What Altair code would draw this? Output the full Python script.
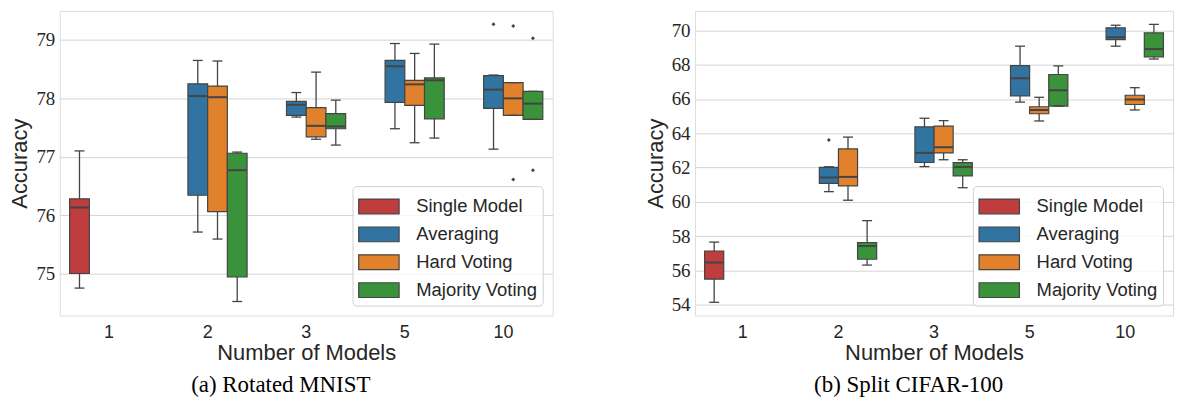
import altair as alt
import pandas as pd

N_ORDER = ["1", "2", "3", "5", "10"]
METHODS = ["Single Model", "Averaging", "Hard Voting", "Majority Voting"]
COLORS = ["#c03d3e", "#3274a1", "#e1812c", "#3a923a"]

# (a) Rotated MNIST
mn_n = ["1", "2", "2", "2", "3", "3", "3", "5", "5", "5", "10", "10", "10"]
mn_method = ["Single Model"] + ["Averaging", "Hard Voting", "Majority Voting"] * 4
mn_lo = [74.75, 75.71, 75.59, 74.52, 77.68, 77.30, 77.20, 77.48, 77.24, 77.32, 77.13, 77.71, 77.64]
mn_q1 = [75.00, 76.34, 76.06, 74.94, 77.71, 77.34, 77.48, 77.93, 77.88, 77.65, 77.83, 77.71, 77.64]
mn_med = [76.13, 78.04, 78.02, 76.77, 77.89, 77.53, 77.52, 78.55, 78.24, 78.31, 78.15, 78.00, 77.91]
mn_q3 = [76.28, 78.25, 78.21, 77.06, 77.95, 77.84, 77.74, 78.65, 78.31, 78.35, 78.39, 78.27, 78.12]
mn_hi = [77.10, 78.65, 78.64, 77.08, 78.10, 78.45, 77.97, 78.94, 78.77, 78.93, 78.40, 78.27, 78.12]
mn_out_n = ["10", "10", "10", "10", "10"]
mn_out_method = ["Averaging", "Hard Voting", "Hard Voting", "Majority Voting", "Majority Voting"]
mn_out_val = [79.27, 79.24, 76.61, 79.03, 76.77]
mn_ticks = [75, 76, 77, 78, 79]
mn_domain = [74.28, 79.5]

# (b) Split CIFAR-100
cf_n = ["1", "2", "2", "2", "3", "3", "3", "5", "5", "5", "10", "10", "10"]
cf_method = ["Single Model"] + ["Averaging", "Hard Voting", "Majority Voting"] * 4
cf_lo = [54.15, 60.60, 60.10, 56.32, 62.06, 62.46, 60.83, 65.82, 64.72, 65.59, 69.08, 65.36, 68.33]
cf_q1 = [55.50, 61.08, 60.94, 56.66, 62.30, 62.86, 61.52, 66.18, 65.14, 65.59, 69.46, 65.68, 68.46]
cf_med = [56.47, 61.42, 61.46, 57.43, 62.86, 63.19, 62.04, 67.21, 65.36, 66.51, 69.60, 65.97, 68.91]
cf_q3 = [57.14, 62.02, 63.09, 57.63, 64.38, 64.42, 62.29, 67.95, 65.55, 67.43, 70.15, 66.22, 69.86]
cf_hi = [57.66, 62.05, 63.78, 58.91, 64.88, 64.74, 62.46, 69.08, 66.10, 67.93, 70.30, 66.66, 70.35]
cf_out_n = ["2"]
cf_out_method = ["Averaging"]
cf_out_val = [63.61]
cf_ticks = [54, 56, 58, 60, 62, 64, 66, 68, 70]
cf_domain = [53.38, 71.14]

LINE = "#444444"
SANS = "Liberation Sans"
SERIF = "Liberation Serif"
H = 306


def panel(n, method, lo, q1, med, q3, hi, on, om, ov, ticks, domain, caption, width):
    df = pd.DataFrame({"n": n, "method": method, "lo": lo, "q1": q1,
                       "med": med, "q3": q3, "hi": hi})
    dfo = pd.DataFrame({"n": on, "method": om, "val": ov})
    x = alt.X("n:N", sort=N_ORDER, scale=alt.Scale(domain=N_ORDER, paddingInner=0, paddingOuter=0),
              axis=alt.Axis(title="Number of Models", labelAngle=0, ticks=False, domain=False,
                            grid=False, labelFont=SANS, labelFontSize=18, labelColor="#262626",
                            labelPadding=8, titleFont=SANS, titleFontSize=22, titleFontWeight="normal",
                            titleColor="#262626", titlePadding=1))
    xo = alt.XOffset("method:N", sort=METHODS,
                     scale=alt.Scale(domain=METHODS, paddingInner=0, paddingOuter=0.5))
    ysc = alt.Scale(domain=domain, nice=False, zero=False)
    yaxis = alt.Axis(title="Accuracy", values=ticks, format="d", labelOverlap=False,
                     ticks=False, domain=False, grid=True,
                     gridColor="#d4d4d4", gridWidth=1, labelFont=SERIF, labelFontSize=19,
                     labelColor="#262626", labelPadding=5, titleFont=SANS, titleFontSize=22,
                     titleFontWeight="normal", titleColor="#262626", titlePadding=4)
    base = alt.Chart(df)
    whisk = base.mark_rule(color=LINE, strokeWidth=1.3).encode(
        x=x, xOffset=xo, y=alt.Y("lo:Q", scale=ysc, axis=yaxis), y2="hi:Q")
    box = base.mark_bar(stroke=LINE, strokeWidth=1.2).encode(
        x=x, xOffset=xo, y=alt.Y("q1:Q", scale=ysc, axis=yaxis), y2="q3:Q",
        color=alt.Color("method:N", sort=METHODS,
                        scale=alt.Scale(domain=METHODS, range=COLORS),
                        legend=alt.Legend(title=None, orient="bottom-right", offset=10,
                                          fillColor="rgba(255,255,255,0.8)", strokeColor="#d0d0d0",
                                          cornerRadius=4, padding=5, rowPadding=2,
                                          symbolType="M-1.367,-0.5H1.367V0.5H-1.367Z",
                                          symbolSize=880, symbolStrokeColor=LINE,
                                          symbolStrokeWidth=1.2, symbolOpacity=1, symbolOffset=6,
                                          labelFont=SANS, labelFontSize=18.5, labelColor="#262626",
                                          labelOffset=22, labelLimit=300)))
    medl = base.mark_tick(color=LINE, thickness=2, size=19, orient="horizontal", opacity=1).encode(
        x=x, xOffset=xo, y=alt.Y("med:Q", scale=ysc, axis=yaxis))
    caplo = base.mark_tick(color=LINE, thickness=1.3, size=10, orient="horizontal", opacity=1).encode(
        x=x, xOffset=xo, y=alt.Y("lo:Q", scale=ysc, axis=yaxis))
    caphi = base.mark_tick(color=LINE, thickness=1.3, size=10, orient="horizontal", opacity=1).encode(
        x=x, xOffset=xo, y=alt.Y("hi:Q", scale=ysc, axis=yaxis))
    outl = alt.Chart(dfo).mark_point(shape="diamond", filled=True, color=LINE, size=16, opacity=1).encode(
        x=x, xOffset=xo, y=alt.Y("val:Q", scale=ysc, axis=yaxis))
    return alt.layer(whisk, box, medl, caplo, caphi, outl).properties(
        width=width, height=H,
        title=alt.TitleParams(text=caption, orient="bottom", anchor="middle", frame="bounds",
                              font=SERIF, fontSize=23, fontWeight="normal", color="black",
                              offset=11))


left = panel(mn_n, mn_method, mn_lo, mn_q1, mn_med, mn_q3, mn_hi,
             mn_out_n, mn_out_method, mn_out_val, mn_ticks, mn_domain, "(a) Rotated MNIST", 495)
right = panel(cf_n, cf_method, cf_lo, cf_q1, cf_med, cf_q3, cf_hi,
              cf_out_n, cf_out_method, cf_out_val, cf_ticks, cf_domain, "(b) Split CIFAR-100", 480)

chart = alt.hconcat(left, right, spacing=90).resolve_scale(
    x="independent", y="independent", xOffset="independent", color="independent"
).resolve_legend(color="independent").properties(
    padding={"left": 0, "top": 1, "right": 0, "bottom": 0}
).configure_view(stroke="#cccccc", strokeWidth=1.2).configure(background="white")

chart.save("out.html", embed_options={"renderer": "svg", "actions": False})
